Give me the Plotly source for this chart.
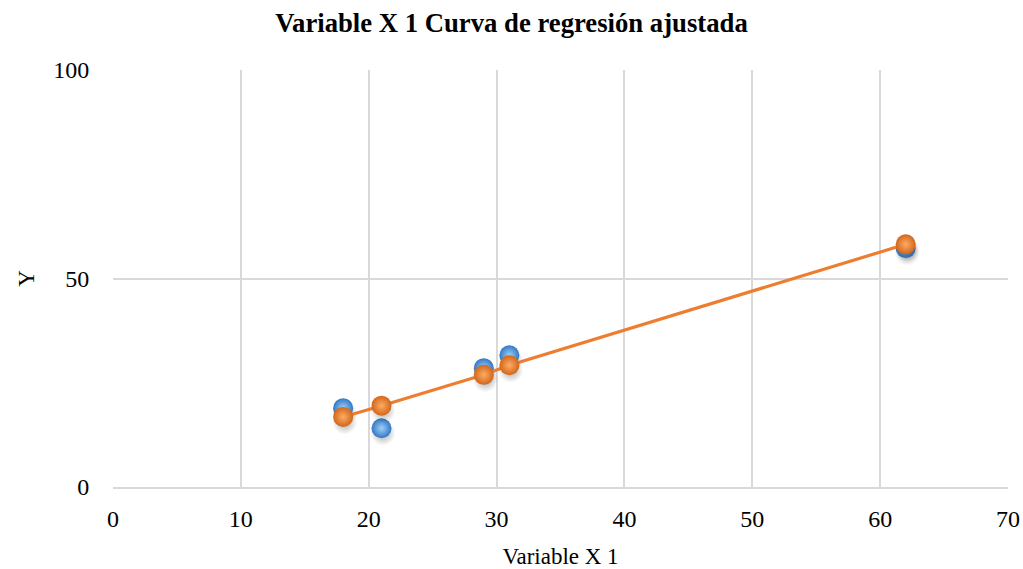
import plotly.graph_objects as go

x_vals = [18, 21, 29, 31, 62]
y_observed = [18.9, 14.1, 28.5, 31.6, 57.3]
y_predicted = [16.8, 19.5, 26.9, 29.2, 58.2]

x_ticks = [0, 10, 20, 30, 40, 50, 60, 70]
y_ticks = [0, 50, 100]

font_family = "Liberation Serif, Times New Roman, serif"
shadow_dx, shadow_dy = 0.12, -1.2

fig = go.Figure()

# soft shadows (radial: gradient color is the centre colour)
fig.add_trace(go.Scatter(
    x=[v + shadow_dx for v in x_vals], y=[v + shadow_dy for v in y_observed], mode="markers",
    marker=dict(size=25, color="rgba(0,0,0,0)", line=dict(width=0),
                gradient=dict(type="radial", color="rgba(0,0,0,0.35)")),
    hoverinfo="skip", showlegend=False))

fig.add_trace(go.Scatter(
    x=x_vals, y=y_observed, mode="markers", name="Y",
    marker=dict(size=20, color="#3477C2", line=dict(width=0),
                gradient=dict(type="radial", color="#9DD0F8")),
    showlegend=False))

fig.add_trace(go.Scatter(
    x=x_vals, y=y_predicted, mode="lines", name="Pronóstico Y",
    line=dict(color="#ED7D31", width=3.2), showlegend=False))

fig.add_trace(go.Scatter(
    x=[v + shadow_dx for v in x_vals], y=[v + shadow_dy for v in y_predicted], mode="markers",
    marker=dict(size=25, color="rgba(0,0,0,0)", line=dict(width=0),
                gradient=dict(type="radial", color="rgba(0,0,0,0.35)")),
    hoverinfo="skip", showlegend=False))

fig.add_trace(go.Scatter(
    x=x_vals, y=y_predicted, mode="markers", name="Pronóstico Y",
    marker=dict(size=20, color="#D3661A", line=dict(width=0),
                gradient=dict(type="radial", color="#FCAD64")),
    showlegend=False))

fig.update_layout(
    width=1023, height=569,
    margin=dict(l=113, r=15, t=70, b=82, autoexpand=False),
    paper_bgcolor="white", plot_bgcolor="white",
    font=dict(family=font_family, size=24, color="black"),
    title=dict(text="<b>Variable X 1 Curva de regresión ajustada</b>",
               x=0.5, xanchor="center", y=0.961, yanchor="middle",
               font=dict(family=font_family, size=26.7, color="black")),
    xaxis=dict(range=[0, 70], tickvals=x_ticks, showgrid=True, gridcolor="#D9D9D9",
               gridwidth=1.5, zeroline=False, showline=True, linecolor="#D9D9D9",
               linewidth=2, ticks="outside", ticklen=9, tickcolor="rgba(0,0,0,0)",
               automargin=False,
               title=dict(text="Variable X 1", standoff=17, font=dict(size=23))),
    yaxis=dict(range=[0, 100], tickvals=y_ticks, showgrid=True, gridcolor="#D9D9D9",
               gridwidth=1.5, zeroline=False, showline=False,
               ticks="outside", ticklen=18, tickcolor="rgba(0,0,0,0)",
               automargin=False,
               title=dict(text="Y", standoff=12, font=dict(size=23))),
)

fig.write_html("out.html", config={"displayModeBar": False},
               post_script="document.body.style.margin='0';document.body.style.overflow='hidden';")
